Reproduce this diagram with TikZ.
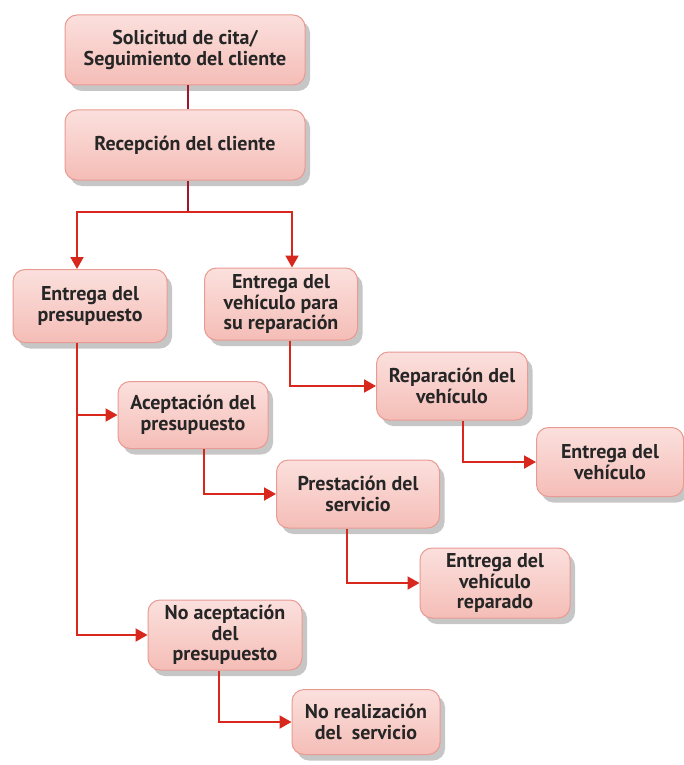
\documentclass[tikz,border=0pt]{standalone}
\usepackage{fontspec}
\setmainfont{PT Sans}
\usetikzlibrary{positioning}
\usetikzlibrary{shadows, arrows.meta}
\definecolor{rojo}{HTML}{D8281E}
\definecolor{granate}{HTML}{A3162A}
\definecolor{rosa}{HTML}{F5BDB7}
\definecolor{rosaclaro}{HTML}{FBE0DD}
\definecolor{borde}{HTML}{E99A92}

\begin{document}
\begin{tikzpicture}[
  x=1pt, y=-1pt,
  caja/.style={rounded corners=12pt, draw=borde, line width=1pt,
    top color=rosaclaro, bottom color=rosa, align=center,
    text=black!85, font=\bfseries\fontsize{20}{20.5}\selectfont,
    drop shadow={opacity=0.45, shadow xshift=5pt, shadow yshift=-6pt}},
  flecha/.style={draw=rojo, line width=2pt, -{Triangle[length=12pt,width=13pt]}},
  linea/.style={draw=granate, line width=2pt}
]
\useasboundingbox (0,0) rectangle (684,765);

\node[caja, minimum width=240, minimum height=70] (solicitud) at (185,50) {Solicitud de cita/\\Seguimiento del cliente};
\node[caja, minimum width=240, minimum height=70] (recepcion) at (185,145) {Recepción del cliente};

\node[caja, minimum width=154, minimum height=73] (presupuesto) at (90,306) {Entrega del\\presupuesto};
\node[caja, minimum width=153, minimum height=72] (entregaveh) at (281,304) {Entrega del\\vehículo para\\su reparación};

\node[caja, minimum width=151, minimum height=68] (reparacion) at (452,386) {Reparación del\\vehículo};
\node[caja, minimum width=147, minimum height=69] (entregafin) at (610,462) {Entrega del\\vehículo};

\node[caja, minimum width=150, minimum height=67] (aceptacion) at (193,415) {Aceptación del\\presupuesto};
\node[caja, minimum width=163, minimum height=68] (prestacion) at (358,494) {Prestación del\\servicio};
\node[caja, minimum width=150, minimum height=70] (reparado) at (495,583) {Entrega del\\vehículo\\reparado};

\node[caja, minimum width=154, minimum height=70] (noacepta) at (225,635) {No aceptación\\del\\presupuesto};
\node[caja, minimum width=148, minimum height=65] (norealiza) at (366,722) {No realización\\del\ \ servicio};

\coordinate (rama) at (188,212);

% tronco superior
\draw[linea] (solicitud.south -| rama) -- (recepcion.north -| rama);
\draw[linea] (recepcion.south -| rama) -- (rama);
\draw[flecha] (rama) -| (presupuesto.north -| 77,0);
\draw[flecha] (rama) -| (entregaveh.north -| 292,0);

% ramas
\draw[flecha] (presupuesto.south -| 77,0) |- (noacepta.west);
\draw[flecha] (aceptacion.west -| 77,0) -- (aceptacion.west);
\draw[flecha] (entregaveh.south -| 290,0) |- (reparacion.west);
\draw[flecha] (reparacion.south -| 463,0) |- (entregafin.west);
\draw[flecha] (aceptacion.south -| 204,0) |- (prestacion.west);
\draw[flecha] (prestacion.south -| 347,0) |- (reparado.west);
\draw[flecha] (noacepta.south -| 219,0) |- (norealiza.west);

\end{tikzpicture}
\end{document}
